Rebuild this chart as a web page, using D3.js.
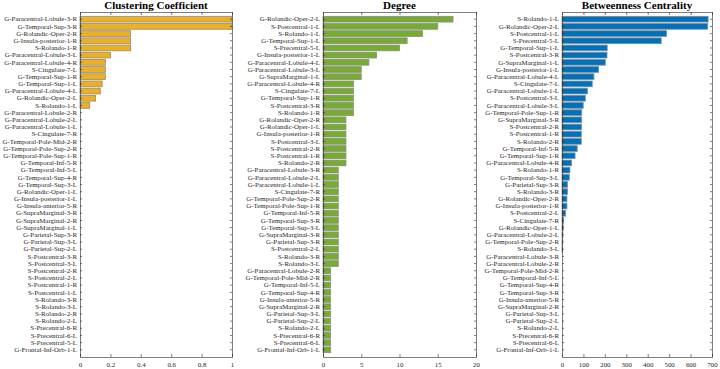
<!DOCTYPE html>
<html>
<head>
<meta charset="utf-8">
<script src="https://cdn.jsdelivr.net/npm/d3@7/dist/d3.min.js"></script>
<style>
html,body{margin:0;padding:0;background:#fff;}
svg{display:block;}
text{font-family:"Liberation Serif","Times New Roman",serif;}
</style>
</head>
<body>
<svg id="chart" width="720" height="369"></svg>
<script>
// ---- Data ----
const ccLabels = ["G-Paracentral-Lobule-3-R","G-Temporal-Sup-3-R","G-Rolandic-Oper-2-R","G-Insula-posterior-1-R","S-Rolando-1-R","G-Paracentral-Lobule-3-L","G-Paracentral-Lobule-4-R","S-Cingulate-7-L","G-Temporal-Sup-1-R","G-Temporal-Sup-1-L","G-Paracentral-Lobule-4-L","G-Rolandic-Oper-2-L","S-Rolando-1-L","G-Paracentral-Lobule-2-R","G-Paracentral-Lobule-2-L","G-Paracentral-Lobule-1-L","S-Cingulate-7-R","G-Temporal-Pole-Mid-2-R","G-Temporal-Pole-Sup-2-R","G-Temporal-Pole-Sup-1-R","G-Temporal-Inf-5-R","G-Temporal-Inf-5-L","G-Temporal-Sup-4-R","G-Temporal-Sup-3-L","G-Rolandic-Oper-1-L","G-Insula-posterior-1-L","G-Insula-anterior-5-R","G-SupraMarginal-3-R","G-SupraMarginal-2-R","G-SupraMarginal-1-L","G-Parietal-Sup-3-R","G-Parietal-Sup-3-L","G-Parietal-Sup-2-L","S-Postcentral-3-R","S-Postcentral-3-L","S-Postcentral-2-R","S-Postcentral-2-L","S-Postcentral-1-R","S-Postcentral-1-L","S-Rolando-3-R","S-Rolando-3-L","S-Rolando-2-R","S-Rolando-2-L","S-Precentral-6-R","S-Precentral-6-L","S-Precentral-5-L","G-Frontal-Inf-Orb-1-L"];
const ccValues = [1,1,0.3333,0.3333,0.3333,0.2,0.1667,0.1667,0.1667,0.1455,0.1333,0.1029,0.0641,0,0,0,0,0,0,0,0,0,0,0,0,0,0,0,0,0,0,0,0,0,0,0,0,0,0,0,0,0,0,0,0,0,0];
const ccTicks = [0,0.2,0.4,0.6,0.8,1];

const degLabels = ["G-Rolandic-Oper-2-L","S-Postcentral-1-L","S-Rolando-1-L","G-Temporal-Sup-1-L","S-Precentral-5-L","G-Insula-posterior-1-L","G-Paracentral-Lobule-4-L","G-Paracentral-Lobule-3-L","G-SupraMarginal-1-L","G-Paracentral-Lobule-4-R","S-Cingulate-7-L","G-Temporal-Sup-1-R","S-Postcentral-3-R","S-Rolando-1-R","G-Rolandic-Oper-2-R","G-Rolandic-Oper-1-L","G-Insula-posterior-1-R","S-Postcentral-3-L","S-Postcentral-2-R","S-Postcentral-1-R","S-Rolando-2-R","G-Paracentral-Lobule-3-R","G-Paracentral-Lobule-2-L","G-Paracentral-Lobule-1-L","S-Cingulate-7-R","G-Temporal-Pole-Sup-2-R","G-Temporal-Pole-Sup-1-R","G-Temporal-Inf-5-R","G-Temporal-Sup-3-R","G-Temporal-Sup-3-L","G-SupraMarginal-3-R","G-Parietal-Sup-3-R","S-Postcentral-2-L","S-Rolando-3-R","S-Rolando-3-L","G-Paracentral-Lobule-2-R","G-Temporal-Pole-Mid-2-R","G-Temporal-Inf-5-L","G-Temporal-Sup-4-R","G-Insula-anterior-5-R","G-SupraMarginal-2-R","G-Parietal-Sup-3-L","G-Parietal-Sup-2-L","S-Rolando-2-L","S-Precentral-6-R","S-Precentral-6-L","G-Frontal-Inf-Orb-1-L"];
const degValues = [17,15,13,11,10,7,6,5,5,4,4,4,4,4,3,3,3,3,3,3,3,2,2,2,2,2,2,2,2,2,2,2,2,2,2,1,1,1,1,1,1,1,1,1,1,1,1];
const degTicks = [0,5,10,15,20];

const bcLabels = ["S-Rolando-1-L","G-Rolandic-Oper-2-L","S-Postcentral-1-L","S-Precentral-5-L","G-Temporal-Sup-1-L","S-Postcentral-3-R","G-SupraMarginal-1-L","G-Insula-posterior-1-L","G-Paracentral-Lobule-4-L","S-Cingulate-7-L","G-Paracentral-Lobule-1-L","S-Postcentral-3-L","G-Paracentral-Lobule-3-L","G-Temporal-Pole-Sup-1-R","G-SupraMarginal-3-R","S-Postcentral-2-R","S-Postcentral-1-R","S-Rolando-2-R","G-Temporal-Inf-5-R","G-Temporal-Sup-1-R","G-Paracentral-Lobule-4-R","S-Rolando-1-R","G-Temporal-Sup-3-L","G-Parietal-Sup-3-R","S-Rolando-3-R","G-Rolandic-Oper-2-R","G-Insula-posterior-1-R","S-Postcentral-2-L","S-Cingulate-7-R","G-Rolandic-Oper-1-L","G-Paracentral-Lobule-2-L","G-Temporal-Pole-Sup-2-R","S-Rolando-3-L","G-Paracentral-Lobule-3-R","G-Paracentral-Lobule-2-R","G-Temporal-Pole-Mid-2-R","G-Temporal-Inf-5-L","G-Temporal-Sup-4-R","G-Temporal-Sup-3-R","G-Insula-anterior-5-R","G-SupraMarginal-2-R","G-Parietal-Sup-3-L","G-Parietal-Sup-2-L","S-Rolando-2-L","S-Precentral-6-R","S-Precentral-6-L","G-Frontal-Inf-Orb-1-L"];
const bcValues = [682,680,488,463,211,210,202,171,149,141,119,109,99,92,92,91,90,90,71,61,45,37,34,26,26,23,23,17,8,6,4,3,2,0,0,0,0,0,0,0,0,0,0,0,0,0,0];
const bcTicks = [0,100,200,300,400,500,600,700];

const panels = [
  {title:"Clustering Coefficient", labels:ccLabels, values:ccValues, ticks:ccTicks, max:1, x0:80, x1:232, color:"#EDB120"},
  {title:"Degree", labels:degLabels, values:degValues, ticks:degTicks, max:20, x0:323, x1:476, color:"#77AC30"},
  {title:"Betweenness Centrality", labels:bcLabels, values:bcValues, ticks:bcTicks, max:700, x0:562, x1:712, color:"#0072BD"}
];

const svg = d3.select("#chart");
const plotTop = 12, plotBottom = 357;

panels.forEach(p => {
  const g = svg.append("g");
  const x = d3.scaleLinear().domain([0, p.max]).range([p.x0, p.x1]);
  const y = d3.scaleBand().domain(p.labels).range([plotTop, plotBottom]).paddingInner(0.2).paddingOuter(0.6);

  g.selectAll("rect.bar").data(p.values).enter().append("rect")
    .attr("class","bar")
    .attr("x", x(0))
    .attr("y", (d,i) => y(p.labels[i]))
    .attr("width", d => Math.max(0, x(d) - x(0)))
    .attr("height", y.bandwidth())
    .attr("fill", p.color)
    .attr("stroke", "#8c8c8c")
    .attr("stroke-width", 0.8);

  const xb = d3.axisBottom(x).tickValues(p.ticks).tickSize(-3).tickSizeOuter(0).tickPadding(5).tickFormat(d => String(d));
  const gxb = g.append("g").attr("transform", `translate(0,${plotBottom})`).call(xb);
  const xt = d3.axisTop(x).tickValues(p.ticks).tickSize(-3).tickSizeOuter(0).tickFormat("");
  const gxt = g.append("g").attr("transform", `translate(0,${plotTop})`).call(xt);
  const yl = d3.axisLeft(y).tickSize(-2).tickSizeOuter(0).tickPadding(3);
  const gyl = g.append("g").attr("transform", `translate(${p.x0},0)`).call(yl);
  const yr = d3.axisRight(y).tickSize(-2).tickSizeOuter(0).tickFormat("");
  const gyr = g.append("g").attr("transform", `translate(${p.x1},0)`).call(yr);

  [gxb,gxt,gyl,gyr].forEach(a => {
    a.selectAll("path.domain").attr("stroke","#262626").attr("stroke-width",0.6);
    a.selectAll(".tick line").attr("stroke","#262626").attr("stroke-width",0.6);
    a.selectAll(".tick text").attr("fill","#262626").style("font-family","'Liberation Serif',serif").style("font-size","6.9px");
  });

  g.append("text")
    .attr("x", (p.x0 + p.x1)/2)
    .attr("y", 8.5)
    .attr("text-anchor","middle")
    .style("font-weight","bold")
    .style("font-size","11px")
    .attr("fill","#000")
    .text(p.title);
});
</script>
</body>
</html>
